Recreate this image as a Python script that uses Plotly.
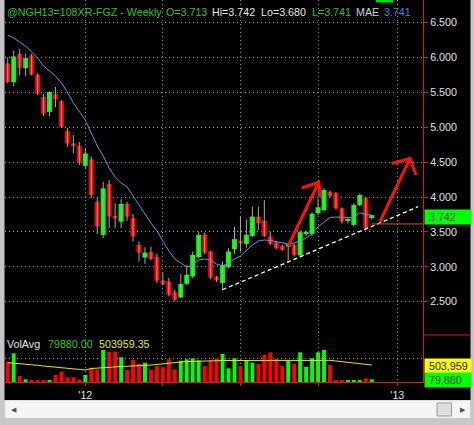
import pandas as pd
import plotly.graph_objects as go
from plotly.subplots import make_subplots

# ---- weekly bars, @NGH13 (Oct 2011 - Dec 2012) ----
first_week = "2011-10-02"
opens = [5.914, 5.643, 6.053, 5.847, 6.029, 5.753, 5.433, 5.219, 5.471, 5.371,
         4.943, 4.767, 4.733, 4.447, 4.539, 3.933, 3.457, 4.186, 3.729, 3.647,
         3.900, 3.696, 3.314, 3.133, 3.210, 3.139, 2.804, 2.790, 2.633, 2.561,
         2.757, 2.861, 3.139, 3.457, 3.219, 2.853, 2.767, 2.996, 3.253, 3.376,
         3.329, 3.443, 3.719, 3.657, 3.433, 3.347, 3.300, 3.290, 3.314, 3.164,
         3.471, 3.471, 3.767, 3.814, 4.076, 4.053, 3.839, 3.657, 3.600, 3.886,
         3.981, 3.713]
highs = [6.000, 6.100, 6.124, 6.053, 6.053, 5.767, 5.481, 5.514, 5.576, 5.386,
         4.990, 4.886, 4.790, 4.696, 4.580, 3.981, 4.219, 4.243, 3.910, 3.967,
         3.933, 3.757, 3.361, 3.281, 3.290, 3.190, 2.919, 2.840, 2.670, 2.900,
         3.029, 3.219, 3.504, 3.490, 3.230, 2.870, 3.076, 3.267, 3.576, 3.714,
         3.671, 3.861, 3.860, 3.957, 3.504, 3.360, 3.310, 3.340, 3.330, 3.520,
         3.520, 3.780, 3.981, 4.124, 4.090, 4.070, 3.850, 3.700, 3.910, 4.053,
         4.000, 3.742]
lows = [5.630, 5.586, 5.743, 5.733, 5.743, 5.457, 5.161, 5.161, 5.290, 4.990,
        4.719, 4.624, 4.457, 4.410, 3.981, 3.471, 3.410, 3.557, 3.553, 3.553,
        3.661, 3.361, 3.076, 3.043, 3.090, 2.767, 2.740, 2.576, 2.504, 2.550,
        2.740, 2.840, 3.120, 3.180, 2.824, 2.780, 2.671, 2.980, 3.186, 3.219,
        3.267, 3.430, 3.529, 3.430, 3.314, 3.250, 3.230, 3.090, 3.147, 3.140,
        3.440, 3.440, 3.740, 3.790, 4.000, 3.820, 3.620, 3.620, 3.580, 3.870,
        3.540, 3.680]
closes = [5.643, 6.014, 5.847, 5.990, 5.753, 5.481, 5.196, 5.504, 5.400, 5.004,
          4.767, 4.733, 4.496, 4.624, 4.029, 3.576, 4.124, 3.719, 3.696, 3.900,
          3.719, 3.433, 3.204, 3.204, 3.114, 2.804, 2.757, 2.600, 2.529, 2.753,
          2.886, 3.171, 3.457, 3.204, 2.847, 2.804, 3.029, 3.219, 3.396, 3.339,
          3.457, 3.719, 3.624, 3.443, 3.329, 3.267, 3.243, 3.324, 3.171, 3.497,
          3.490, 3.761, 3.853, 4.100, 4.014, 3.839, 3.647, 3.681, 3.886, 4.029,
          3.560, 3.741]
# MAE overlay (blue)
ma_close = [6.321, 6.278, 6.221, 6.163, 6.077, 5.991, 5.877, 5.805, 5.734, 5.633,
            5.504, 5.347, 5.218, 5.103, 4.917, 4.731, 4.587, 4.415, 4.287, 4.201,
            4.143, 4.014, 3.871, 3.742, 3.628, 3.513, 3.370, 3.227, 3.112, 3.054,
            2.997, 3.026, 3.097, 3.112, 3.097, 3.040, 3.011, 3.054, 3.112, 3.155,
            3.241, 3.312, 3.370, 3.384, 3.377, 3.363, 3.341, 3.327, 3.341, 3.370,
            3.413, 3.470, 3.570, 3.642, 3.706, 3.713, 3.713, 3.706, 3.699, 3.775,
            3.749, 3.741]
volumes = [602000, 851000, 178000, 80000, 55000, 50000, 45000, 60000, 207000, 305000,
           139000, 139000, 74000, 207000, 424000, 376000, 948000, 898000, 905000, 732000,
           356000, 652000, 534000, 572000, 356000, 474000, 436000, 673000, 376000, 631000,
           673000, 702000, 643000, 474000, 631000, 702000, 830000, 406000, 702000, 474000,
           652000, 572000, 534000, 800000, 880000, 682000, 474000, 631000, 534000, 880000,
           453000, 702000, 880000, 948000, 504000, 50000, 45000, 40000, 55000, 50000,
           110000, 79880]
vol_avg = [572000, 560000, 545000, 534000, 513000, 495000, 474000, 459000, 445000, 430000,
           415000, 400000, 385000, 356000, 400000, 415000, 430000, 439000, 451000, 459000,
           465000, 471000, 474000, 489000, 504000, 519000, 542000, 563000, 578000, 593000,
           605000, 614000, 622000, 622000, 628000, 631000, 637000, 634000, 637000, 631000,
           634000, 631000, 628000, 634000, 640000, 643000, 637000, 634000, 631000, 640000,
           634000, 637000, 643000, 649000, 643000, 622000, 599000, 578000, 557000, 536000,
           519000, 503959.35]

# hand-drawn studies (date, price)
trend_x = ["2012-06-10", "2013-01-25 07:00"]
trend_y = [2.671, 3.861]
arrow1_x = ["2012-08-26", "2012-10-01", None, "2012-09-11", "2012-10-01", "2012-10-02"]
arrow1_y = [3.298, 4.215, None, 4.129, 4.215, 4.000]
arrow2_x = ["2012-12-11 17:00", "2013-01-15 22:00", None,
            "2012-12-25 05:00", "2013-01-15 22:00", "2013-01-22 22:00"]
arrow2_y = [3.646, 4.552, None, 4.480, 4.552, 4.315]
stop_level = 3.614

x_range = ["2011-09-28 19:00", "2013-01-31 03:00"]
x_ticks = ["2012-01-01", "2012-04-01", "2012-07-01", "2012-10-01", "2013-01-01"]
x_labels = ["'12", "", "", "", "'13"]
price_ticks = [2.5, 3.0, 3.5, 4.0, 4.5, 5.0, 5.5, 6.0, 6.5]
price_range = [2.0229, 6.8224]
vol_range = [0, 1393080]
vol_grid = [700000]

# ---- page geometry (pixels) ----
W, H = 474, 425
ML, MR, MT, MB = 5, 51, 0, 43
PW, PH = W - ML - MR, H - MT - MB
SPLIT = 335  # price / volume boundary


def fx(px):
    return (px - ML) / PW


def fy(py):
    return (PH - py) / PH


FONT = "Liberation Sans, Arial, sans-serif"
FS = 10.7
UP, DOWN = "#00ff00", "#ff0000"
GRID = "#8a8a8a"
AXIS_RED = "#e01818"

dates = pd.date_range(first_week, periods=len(opens), freq="7D")
colors = [UP if c >= o else DOWN for o, c in zip(opens, closes)]
DAY_MS = 86400000

fig = make_subplots(rows=2, cols=1, shared_xaxes=True, vertical_spacing=0,
                    row_heights=[SPLIT, PH - SPLIT])

# wicks
wx, wy = [], []
for d, lo, hi in zip(dates, lows, highs):
    wx += [d, d, None]
    wy += [lo, hi, None]
fig.add_trace(go.Scatter(x=wx, y=wy, mode="lines", line=dict(color="#a8a8a8", width=1),
                         hoverinfo="skip"), row=1, col=1)

# candle bodies
fig.add_trace(go.Bar(x=dates, y=[abs(c - o) for o, c in zip(opens, closes)],
                     base=[min(o, c) for o, c in zip(opens, closes)],
                     width=5.9 * DAY_MS, marker=dict(color=colors, line=dict(width=0))),
              row=1, col=1)

# moving average
fig.add_trace(go.Scatter(x=dates, y=ma_close, mode="lines",
                         line=dict(color="#6593d8", width=1)), row=1, col=1)

# support trendline
fig.add_trace(go.Scatter(x=trend_x, y=trend_y, mode="lines",
                         line=dict(color="#ffffff", width=1.3, dash="4px,3px")), row=1, col=1)

# arrows
for ax_, ay_ in ((arrow1_x, arrow1_y), (arrow2_x, arrow2_y)):
    fig.add_trace(go.Scatter(x=ax_, y=ay_, mode="lines", connectgaps=False,
                             line=dict(color="#ff1010", width=3)), row=1, col=1)

# volume
fig.add_trace(go.Bar(x=dates, y=volumes, width=4.6 * DAY_MS,
                     marker=dict(color=colors, line=dict(width=0))), row=2, col=1)
fig.add_trace(go.Scatter(x=dates, y=vol_avg, mode="lines",
                         line=dict(color="#e8e800", width=1)), row=2, col=1)

fig.update_layout(
    width=W, height=H, margin=dict(l=ML, r=MR, t=MT, b=MB),
    paper_bgcolor="#000000", plot_bgcolor="#000000",
    showlegend=False, barmode="overlay",
    font=dict(family=FONT, size=FS, color="#e0e0e0"),
)

common_x = dict(type="date", range=x_range, tickmode="array", tickvals=x_ticks,
                showgrid=True, gridcolor=GRID, griddash="1px,3px", gridwidth=1,
                zeroline=False)
fig.update_xaxes(**common_x, showticklabels=False, ticks="", showline=False, row=1, col=1)
fig.update_xaxes(**common_x, ticktext=x_labels, showticklabels=True, ticks="outside",
                 ticklen=3, tickcolor=AXIS_RED, showline=True, linecolor=AXIS_RED,
                 linewidth=1, tickfont=dict(family=FONT, size=FS, color="#e0e0e0"),
                 row=2, col=1)

fig.update_yaxes(side="right", range=price_range, tickmode="array", tickvals=price_ticks,
                 ticktext=[f"{v:.3f}" for v in price_ticks], ticks="outside", ticklen=4,
                 tickcolor=AXIS_RED, showline=True, linecolor=AXIS_RED, linewidth=1,
                 showgrid=True, gridcolor=GRID, griddash="1px,3px", zeroline=False,
                 tickfont=dict(family=FONT, size=FS, color="#e0e0e0"), row=1, col=1)
fig.update_yaxes(side="right", range=vol_range, tickmode="array", tickvals=vol_grid,
                 showticklabels=False, ticks="", showline=True, linecolor=AXIS_RED,
                 linewidth=1, showgrid=True, gridcolor=GRID, griddash="1px,3px",
                 zeroline=False, row=2, col=1)

shapes = [
    # last-bar reference level
    dict(type="line", xref="x", yref="y", x0=dates[-1], x1=x_range[1],
         y0=stop_level, y1=stop_level, line=dict(color="#e04848", width=1)),
    # axis panel separator
    dict(type="line", xref="paper", yref="paper", x0=fx(423), x1=fx(470),
         y0=fy(SPLIT), y1=fy(SPLIT), line=dict(color=AXIS_RED, width=1)),
    # window frame
    dict(type="rect", xref="paper", yref="paper", x0=fx(0), x1=fx(4.5), y0=fy(425), y1=fy(0),
         fillcolor="#c4c4c4", line=dict(width=0)),
    dict(type="rect", xref="paper", yref="paper", x0=fx(470.5), x1=fx(474), y0=fy(425), y1=fy(0),
         fillcolor="#c4c4c4", line=dict(width=0)),
    dict(type="rect", xref="paper", yref="paper", x0=fx(0), x1=fx(474), y0=fy(425), y1=fy(400),
         fillcolor="#c8c8c8", line=dict(width=0)),
    dict(type="rect", xref="paper", yref="paper", x0=fx(5), x1=fx(470), y0=fy(418), y1=fy(400.5),
         fillcolor="#f4f4f4", line=dict(width=0)),
    dict(type="rect", xref="paper", yref="paper", x0=fx(437), x1=fx(451.5), y0=fy(416), y1=fy(403),
         fillcolor="#dedede", line=dict(color="#9a9a9a", width=1)),
    dict(type="rect", xref="paper", yref="paper", x0=fx(376), x1=fx(393), y0=fy(2.5), y1=fy(0),
         fillcolor="#00e000", line=dict(width=0)),
]
fig.update_layout(shapes=shapes)

ann = []


def text_at(px, py, s, color, size=FS):
    ann.append(dict(xref="paper", yref="paper", x=fx(px), y=fy(py), text=s,
                    showarrow=False, xanchor="left", yanchor="middle",
                    font=dict(family=FONT, size=size, color=color), borderpad=0))


GREEN_TXT, WHITE_TXT, BLUE_TXT, YELLOW_TXT = "#2ec42e", "#e8e8e8", "#4a84dc", "#e8e830"

# header
text_at(5.5, 12, "@NGH13=108XR-FGZ - Weekly", GREEN_TXT)
text_at(164.5, 12, f"O={opens[-1]:.3f}", GREEN_TXT)
text_at(210.5, 12, f"Hi={highs[-1]:.3f}", WHITE_TXT)
text_at(259.5, 12, f"Lo={lows[-1]:.3f}", WHITE_TXT)
text_at(310.5, 12, f"L={closes[-1]:.3f}", GREEN_TXT)
text_at(355, 12, "MAE", "#d0d0d8")
text_at(383, 12, f"{ma_close[-1]:.3f}", BLUE_TXT)

# volume legend
text_at(5.5, 343.5, "VolAvg", WHITE_TXT)
text_at(47, 343.5, f"{volumes[-1]:.2f}", GREEN_TXT)
text_at(98, 343.5, f"{vol_avg[-1]:.2f}", YELLOW_TXT)

# scrollbar arrows
text_at(10, 409, "\u25c0", "#505050", 7)
text_at(459, 409, "\u25b6", "#505050", 7)


def tag(yref, value, label, bg, fg, shift):
    ann.append(dict(xref="paper", yref=yref, x=fx(424), y=value, yshift=shift,
                    text="\u00a0" + label, showarrow=False, xanchor="left", yanchor="middle",
                    align="left", width=44, height=11.5, borderpad=1, bgcolor=bg,
                    font=dict(family=FONT, size=FS, color=fg)))


tag("y", highs[-1], f"{highs[-1]:.3f}", "#00ff00", "#1d4a1d", -2)
tag("y2", vol_avg[-1], f"{vol_avg[-1]:,.0f}", "#ffff00", "#202010", -1)
tag("y2", volumes[-1], f"{volumes[-1]:,.0f}", "#00ff00", "#1d4a1d", -1)

fig.update_layout(annotations=ann)

fig.write_html("out.html")
